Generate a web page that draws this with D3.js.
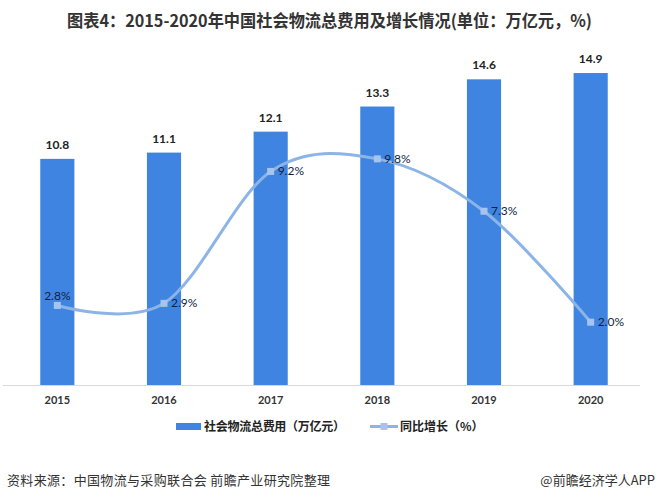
<!DOCTYPE html>
<html>
 <head>
  <meta charset="utf-8" />
  <title>社会物流总费用</title>
  <script src="https://cdn.jsdelivr.net/npm/d3@7/dist/d3.min.js"></script>
  <style>
    body { margin: 0; background: #fff; }
    text { font-family: Lato, "Noto Sans CJK SC", sans-serif; }
    .cjk { font-family: "Noto Sans CJK SC", sans-serif; }
  </style>
 </head>
 <body>
  <script>
    var years   = ["2015", "2016", "2017", "2018", "2019", "2020"],
        costs   = [10.8, 11.1, 12.1, 13.3, 14.6, 14.9],
        growth  = [2.8, 2.9, 9.2, 9.8, 7.3, 2.0];

    var w = 660, h = 500,
        barColor  = "#3f84e0",
        lineColor = "#8cb4e6",
        dotColor  = "#a6c4ee";

    var x  = d3.scaleBand().domain(years).range([4, 644]).paddingInner(0.68).paddingOuter(0.34),
        y  = d3.scaleLinear().domain([0, 16]).range([385, 50]),
        y2 = d3.scaleLinear().domain([-1, 15]).range([385, 50]);

    var svg = d3.select("body").append("svg")
        .attr("width", w)
        .attr("height", h);

    svg.append("text")
      .attr("class", "cjk")
      .attr("x", 67).attr("y", 27)
      .attr("font-size", 17).attr("font-weight", "bold")
      .attr("fill", "#333")
      .attr("textLength", 525)
      .attr("lengthAdjust", "spacingAndGlyphs")
      .text("图表4：2015-2020年中国社会物流总费用及增长情况(单位：万亿元，%)");

    // bars
    svg.selectAll("rect.bar")
      .data(costs)
      .enter().append("rect")
        .attr("class", "bar")
        .attr("x", function(d, i) { return x(years[i]); })
        .attr("y", function(d) { return y(d); })
        .attr("width", x.bandwidth())
        .attr("height", function(d) { return y(0) - y(d); })
        .attr("fill", barColor);

    svg.selectAll("text.barlab")
      .data(costs)
      .enter().append("text")
        .attr("class", "barlab")
        .attr("x", function(d, i) { return x(years[i]) + x.bandwidth() / 2; })
        .attr("y", function(d) { return y(d) - 10; })
        .attr("text-anchor", "middle")
        .attr("font-size", 12).attr("font-weight", "bold")
        .attr("fill", "#222")
        .text(function(d) { return d.toFixed(1); });

    // x axis
    var xAxis = svg.append("g")
        .attr("transform", "translate(0,385)")
        .call(d3.axisBottom(x).tickSize(0).tickPadding(11));
    xAxis.select(".domain").attr("stroke", "#d9d9d9").attr("d", "M3,0.5H640");
    xAxis.selectAll("text")
      .attr("font-size", 11).attr("font-weight", "bold")
      .attr("fill", "#333")
      .style("font-family", "Lato, sans-serif");

    // growth line
    var cx = function(i) { return x(years[i]) + x.bandwidth() / 2; };
    var line = d3.line()
        .x(function(d, i) { return cx(i); })
        .y(function(d) { return y2(d); })
        .curve(d3.curveCardinal.tension(0));

    svg.append("path")
      .datum(growth)
      .attr("d", line)
      .attr("fill", "none")
      .attr("stroke", lineColor)
      .attr("stroke-width", 3);

    svg.selectAll("rect.dot")
      .data(growth)
      .enter().append("rect")
        .attr("class", "dot")
        .attr("x", function(d, i) { return cx(i) - 3.5; })
        .attr("y", function(d) { return y2(d) - 3.5; })
        .attr("width", 7).attr("height", 7)
        .attr("fill", dotColor);

    svg.selectAll("text.pct")
      .data(growth)
      .enter().append("text")
        .attr("class", "pct")
        .attr("x", function(d, i) { return i === 0 ? cx(i) : cx(i) + 7; })
        .attr("y", function(d, i) { return i === 0 ? y2(d) - 5 : y2(d) + 4; })
        .attr("text-anchor", function(d, i) { return i === 0 ? "middle" : "start"; })
        .attr("font-size", 12)
        .attr("fill", "#0f1f45")
        .text(function(d) { return d.toFixed(1) + "%"; });

    // legend
    var lg = svg.append("g").attr("class", "cjk");
    lg.append("rect").attr("x", 176).attr("y", 423).attr("width", 25).attr("height", 7).attr("fill", barColor);
    lg.append("text").attr("x", 204).attr("y", 431)
      .attr("font-size", 12).attr("font-weight", "bold").attr("fill", "#222")
      .style("font-family", "'Noto Sans CJK SC', sans-serif")
      .attr("textLength", 141)
      .text("社会物流总费用（万亿元）");
    lg.append("line").attr("x1", 370).attr("x2", 398).attr("y1", 426.5).attr("y2", 426.5)
      .attr("stroke", lineColor).attr("stroke-width", 3);
    lg.append("rect").attr("x", 380.5).attr("y", 423).attr("width", 7).attr("height", 7).attr("fill", dotColor);
    lg.append("text").attr("x", 400).attr("y", 431)
      .attr("font-size", 12).attr("font-weight", "bold").attr("fill", "#222")
      .style("font-family", "'Noto Sans CJK SC', sans-serif")
      .text("同比增长（%）");

    // footer
    svg.append("text")
      .attr("x", 7).attr("y", 485)
      .attr("font-size", 13).attr("fill", "#333")
      .style("font-family", "'Noto Sans CJK SC', sans-serif")
      .attr("textLength", 323)
      .text("资料来源：中国物流与采购联合会 前瞻产业研究院整理");
    svg.append("text")
      .attr("x", 655).attr("y", 485)
      .attr("text-anchor", "end")
      .attr("font-size", 13).attr("fill", "#333")
      .style("font-family", "'Noto Sans CJK SC', sans-serif")
      .text("@前瞻经济学人APP");
  </script>
 </body>
</html>
